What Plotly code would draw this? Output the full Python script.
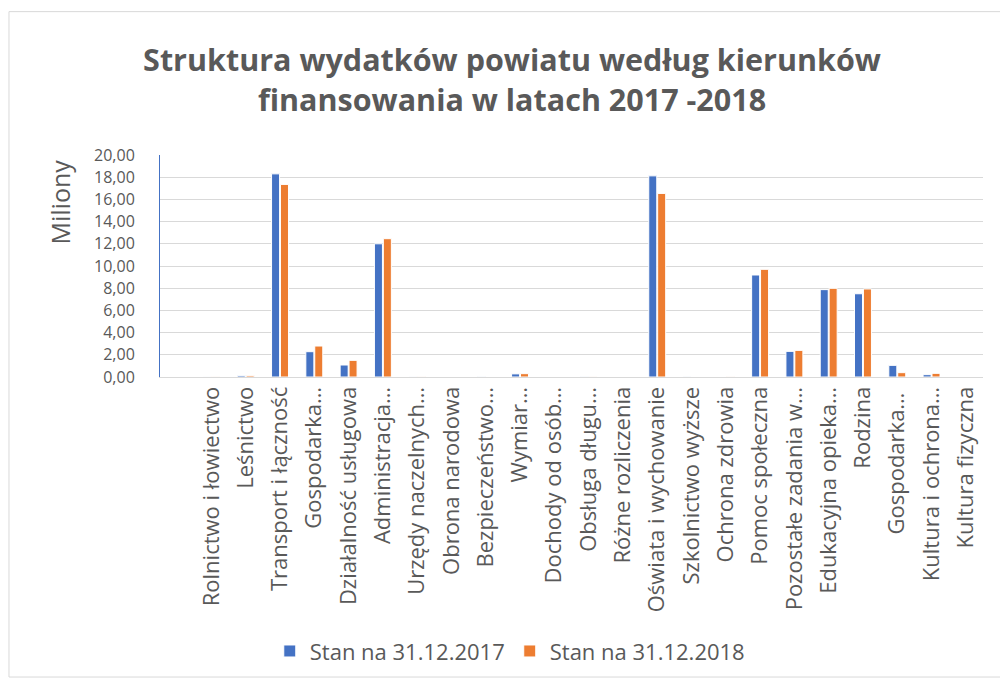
import plotly.graph_objects as go

categories = [
    "Rolnictwo i łowiectwo", "Leśnictwo", "Transport i łączność", "Gospodarka…",
    "Działalność usługowa", "Administracja…", "Urzędy naczelnych…", "Obrona narodowa",
    "Bezpieczeństwo…", "Wymiar…", "Dochody od osób…", "Obsługa długu…",
    "Różne rozliczenia", "Oświata i wychowanie", "Szkolnictwo wyższe", "Ochrona zdrowia",
    "Pomoc społeczna", "Pozostałe zadania w…", "Edukacyjna opieka…", "Rodzina",
    "Gospodarka… ", "Kultura i ochrona…", "Kultura fizyczna",
]
stan_2017 = [0.05, 0.12, 18.30, 2.28, 1.08, 12.00, 0.01, 0.0, 0.02, 0.28, 0.0, 0.02,
             0.0, 18.12, 0.02, 0.0, 9.19, 2.31, 7.87, 7.50, 1.05, 0.21, 0.0]
stan_2018 = [0.03, 0.12, 17.35, 2.79, 1.50, 12.46, 0.02, 0.0, 0.0, 0.30, 0.0, 0.02,
             0.0, 16.54, 0.0, 0.02, 9.70, 2.40, 7.99, 7.93, 0.39, 0.33, 0.0]
series_names = ["Stan na 31.12.2017", "Stan na 31.12.2018"]
colors = ["#4472C4", "#ED7D31"]

fig = go.Figure()
for name, vals, col in zip(series_names, [stan_2017, stan_2018], colors):
    fig.add_trace(go.Bar(
        x=categories, y=vals, name=name,
        marker=dict(color=col, line=dict(color="white", width=1)),
    ))

fig.update_layout(
    width=1000, height=682,
    paper_bgcolor="white", plot_bgcolor="white",
    margin=dict(l=160, r=17, t=155, b=304),
    separators=", ",
    barmode="group", bargap=0.48, bargroupgap=0.1,
    font=dict(family="Open Sans", color="#595959"),
    title=dict(
        text="Struktura wydatków powiatu według kierunków<br>finansowania w latach 2017 -2018",
        x=0.512, xanchor="center", y=0.896, yanchor="middle",
        font=dict(family="Open Sans", size=30.5, color="#595959", weight="bold"),
    ),
    legend=dict(
        orientation="h", x=0.425, xanchor="center", y=-1.225, yanchor="middle",
        font=dict(size=22, color="#595959"), itemwidth=30,
    ),
    showlegend=True,
)
fig.update_xaxes(
    type="category", range=[-1.5, 22.5], tickangle=-90,
    tickfont=dict(family="Open Sans", size=22, color="#595959"),
    showline=True, linecolor="#D9D9D9", linewidth=1, ticks="",
    showgrid=False,
)
fig.update_yaxes(
    range=[0, 20], dtick=2, tickformat=".2f",
    tickfont=dict(family="Open Sans", size=16, color="#595959"),
    ticklabelstandoff=21,
    showgrid=True, gridcolor="#D9D9D9", gridwidth=1,
    showline=True, linecolor="#4472C4", linewidth=1,
    zeroline=False, ticks="",
)
fig.add_annotation(
    text="Miliony", textangle=-90, showarrow=False,
    xref="paper", yref="paper", x=-0.1215, y=0.786,
    xanchor="center", yanchor="middle",
    font=dict(family="Open Sans", size=25, color="#595959"),
)
fig.add_shape(type="rect", xref="paper", yref="paper",
              x0=-0.1835, x1=1.05, y0=-1.3515, y1=1.6458,
              line=dict(color="#D9D9D9", width=1), fillcolor="rgba(0,0,0,0)", layer="below")

fig.write_html("out.html", config={"displayModeBar": False},
               post_script="document.body.style.margin='0';")
